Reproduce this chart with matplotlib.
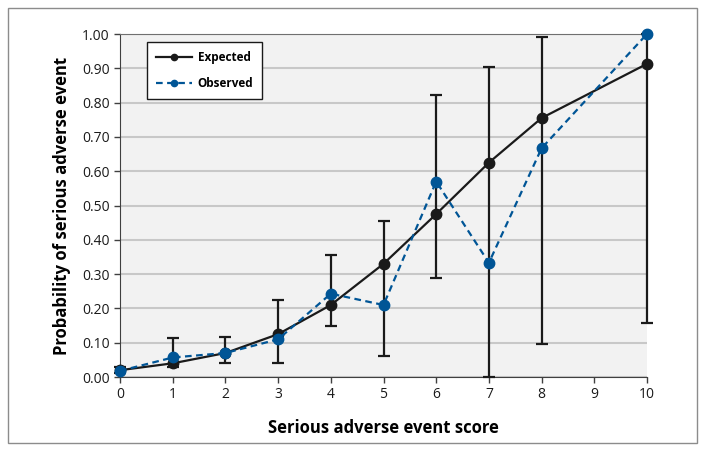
import matplotlib.pyplot as plt
from matplotlib.patches import Rectangle

# Data
scores = [0, 1, 2, 3, 4, 5, 6, 7, 8, 10]
expected = [0.020, 0.040, 0.070, 0.125, 0.210, 0.330, 0.475, 0.625, 0.755, 0.913]
observed = [0.018, 0.057, 0.070, 0.110, 0.243, 0.210, 0.570, 0.333, 0.667, 1.000]
ci_low = [0.013, 0.030, 0.040, 0.042, 0.150, 0.060, 0.290, 0.000, 0.095, 0.158]
ci_high = [0.030, 0.115, 0.117, 0.225, 0.357, 0.455, 0.822, 0.905, 0.990, 1.000]

plt.rcParams['font.family'] = ['Open Sans', 'DejaVu Sans']

fig = plt.figure(figsize=(7.04, 4.51), dpi=100)
ax = fig.add_axes([0.1705, 0.164, 0.7485, 0.7606])

# outer frame around whole figure
fig.patches.append(Rectangle((8 / 704, 8 / 451), 689 / 704, 435 / 451,
                             transform=fig.transFigure, fill=False,
                             edgecolor='#8c8c8c', linewidth=1.0))

ax.set_facecolor('#f2f2f2')
ax.set_xlim(0, 10)
ax.set_ylim(0, 1.0)
ax.set_xticks(range(0, 11))
ax.set_yticks([i / 10 for i in range(11)])
ax.set_yticklabels([f'{i / 10:.2f}' for i in range(11)])
ax.yaxis.grid(True, color='#c8c8c8', linewidth=1.5, zorder=0)
ax.set_axisbelow(True)

ax.spines['right'].set_visible(False)
ax.spines['top'].set_color('#707070')
ax.spines['left'].set_color('#404040')
ax.spines['bottom'].set_color('#404040')
ax.tick_params(direction='out', length=4, width=1, colors='#404040',
               labelsize=10, labelcolor='#1a1a1a')

# error bars
lo = [e - l for e, l in zip(expected, ci_low)]
hi = [h - e for e, h in zip(expected, ci_high)]
ax.errorbar(scores, expected, yerr=[lo, hi], fmt='none', ecolor='#1a1a1a',
            elinewidth=1.6, capsize=4, capthick=1.6, zorder=3, clip_on=False)

ax.plot(scores, expected, color='#1a1a1a', linewidth=1.6, marker='o',
        markersize=7.5, label='Expected', zorder=4, clip_on=False)
ax.plot(scores, observed, color='#005596', linewidth=1.6, linestyle='--',
        dashes=(3, 2), marker='o', markersize=7.5, label='Observed',
        zorder=5, clip_on=False)

leg = ax.legend(loc='upper left', bbox_to_anchor=(0.052, 0.976), fancybox=False,
                edgecolor='#1a1a1a', framealpha=1, markerscale=0.6,
                handlelength=3.0, handletextpad=0.5, labelspacing=1.1,
                borderpad=0.75, borderaxespad=0,
                prop={'weight': 'bold', 'size': 8.5})
leg.get_frame().set_linewidth(1.0)

ax.set_xlabel('Serious adverse event score', fontsize=12, fontweight='bold',
              labelpad=12)
ax.set_ylabel('Probability of serious adverse event', fontsize=12,
              fontweight='bold', labelpad=8)

plt.savefig('out.png', dpi=100)
